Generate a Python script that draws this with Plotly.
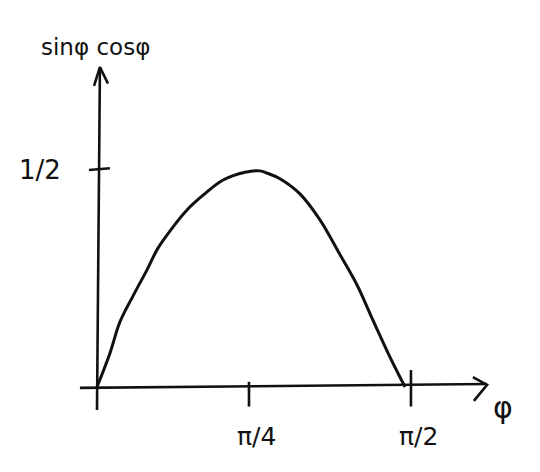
import plotly.graph_objects as go

# Curve values (phi in radians, value of sin(phi)cos(phi))
phi = [0.0, 0.066, 0.117, 0.184, 0.255, 0.311, 0.388, 0.459, 0.541, 0.643,
       0.755, 0.831, 0.867, 0.933, 1.035, 1.137, 1.239, 1.326, 1.407, 1.494, 1.571]
value = [0.0, 0.078, 0.150, 0.210, 0.270, 0.320, 0.369, 0.408, 0.442, 0.477,
         0.495, 0.498, 0.493, 0.480, 0.445, 0.385, 0.305, 0.235, 0.154, 0.069, 0.0]

# Hand-drawn axes (data units)
xaxis_x = [-0.087, 1.989]
xaxis_y = [-0.002, 0.007]
xarrow_x = [1.917, 1.989, 1.922]
xarrow_y = [0.023, 0.005, -0.032]
yaxis_x = [0.0, 0.015]
yaxis_y = [-0.053, 0.737]
yarrow_x = [-0.015, 0.015, 0.056]
yarrow_y = [0.694, 0.737, 0.699]

# Tick marks
tick_labels_x = ["π/4", "π/2"]
tick_pos_x = [0.775, 1.601]
tick_labels_y = ["1/2"]
tick_pos_y = [0.5]

axis_title_y = "sinφ cosφ"
axis_title_x = "φ"

ink = "#111111"
fig = go.Figure()

fig.add_trace(go.Scatter(x=phi, y=value, mode="lines", line=dict(color=ink, width=3, shape="spline", smoothing=1.0),
                         hoverinfo="skip", showlegend=False))
for xs, ys in [(xaxis_x, xaxis_y), (xarrow_x, xarrow_y), (yaxis_x, yaxis_y), (yarrow_x, yarrow_y)]:
    fig.add_trace(go.Scatter(x=xs, y=ys, mode="lines", line=dict(color=ink, width=2.6),
                             hoverinfo="skip", showlegend=False))

# x ticks
for i, (p, lab) in enumerate(zip(tick_pos_x, tick_labels_x)):
    top = 0.012 if i == 0 else 0.039
    fig.add_trace(go.Scatter(x=[p, p], y=[top, -0.045], mode="lines", line=dict(color=ink, width=2.6),
                             hoverinfo="skip", showlegend=False))
    fig.add_annotation(x=p + 0.04, y=-0.115, text=lab, showarrow=False,
                       font=dict(size=25, color=ink, family="DejaVu Sans"), xanchor="center", yanchor="middle")
# y ticks
for p, lab in zip(tick_pos_y, tick_labels_y):
    fig.add_trace(go.Scatter(x=[-0.041, 0.066], y=[p, p + 0.004], mode="lines", line=dict(color=ink, width=2.6),
                             hoverinfo="skip", showlegend=False))
    fig.add_annotation(x=-0.291, y=p, text=lab, showarrow=False,
                       font=dict(size=26, color=ink, family="DejaVu Sans"), xanchor="center", yanchor="middle")

fig.add_annotation(x=-0.010, y=0.783, text=axis_title_y, showarrow=False,
                   font=dict(size=23, color=ink, family="DejaVu Sans"), xanchor="center", yanchor="middle")
fig.add_annotation(x=2.070, y=-0.048, text=axis_title_x, showarrow=False,
                   font=dict(size=30, color=ink, family="DejaVu Sans"), xanchor="center", yanchor="middle")

fig.update_layout(
    width=540, height=472, autosize=False,
    margin=dict(l=0, r=0, t=0, b=0),
    paper_bgcolor="white", plot_bgcolor="white",
    xaxis=dict(range=[-0.4538, 2.2998], visible=False, fixedrange=True),
    yaxis=dict(range=[-0.2143, 0.8733], visible=False, fixedrange=True),
)
fig.write_html("out.html")
